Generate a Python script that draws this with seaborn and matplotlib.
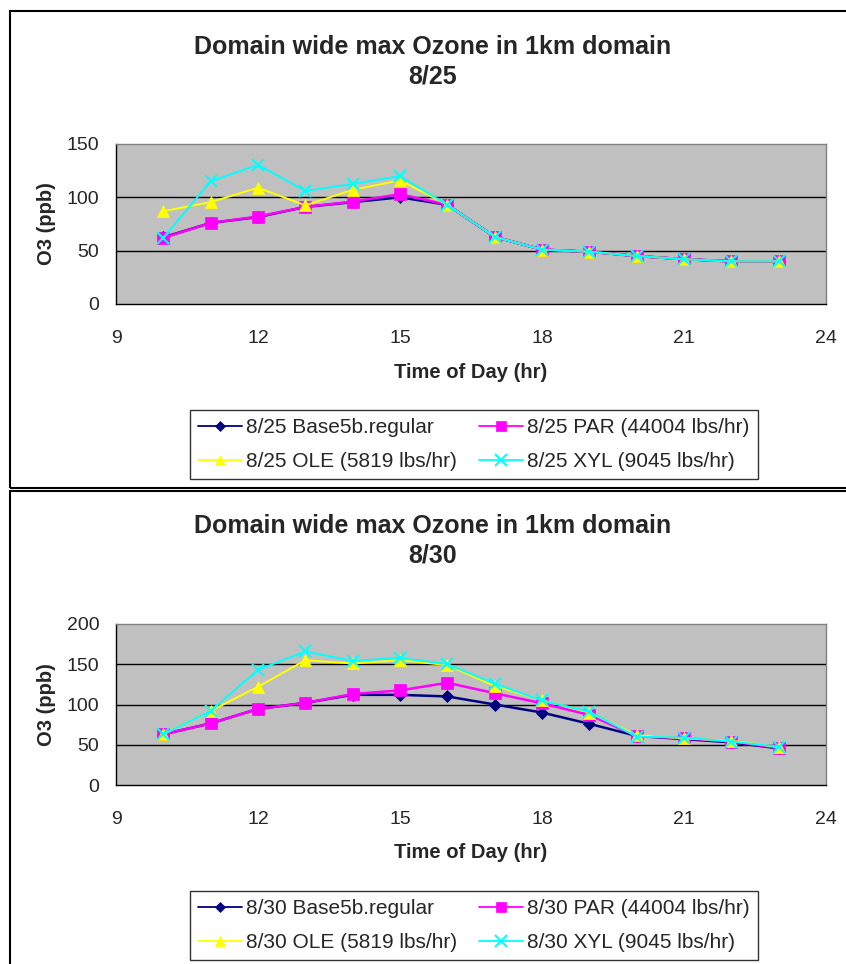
import matplotlib
matplotlib.use("Agg")
import matplotlib.pyplot as plt
import seaborn as sns
import pandas as pd
from matplotlib.patches import Rectangle
from matplotlib.lines import Line2D

sns.set_style("white")
plt.rcParams['font.family'] = ['Liberation Sans', 'DejaVu Sans']

hours = [10, 11, 12, 13, 14, 15, 16, 17, 18, 19, 20, 21, 22, 23]

# 8/25
base_825 = [62.5, 76, 81.5, 91, 95.5, 100, 93, 63, 51, 49, 45, 42, 40, 40]
par_825 = [62, 76, 82, 91, 96, 103, 93, 63, 51, 49, 45, 42, 40, 40]
ole_825 = [87, 95.5, 109, 92.5, 107, 116, 93, 63, 51, 49, 45, 42, 40, 40]
xyl_825 = [62, 115, 130.5, 106, 112.5, 120, 93, 63, 51, 49, 45, 42, 40, 40]

# 8/30
base_830 = [63, 76.5, 94.5, 102, 112, 112, 110, 100, 90, 76, 61, 57, 53, 45.5]
par_830 = [63, 76.5, 94.5, 102, 113, 117.5, 127, 114, 101.5, 87, 61, 58, 54, 46]
ole_830 = [63, 92, 122, 155, 151, 155, 149, 123, 105.5, 90, 62, 58, 55, 47]
xyl_830 = [63, 92, 143, 166, 154, 158, 150, 126, 105, 91, 60, 59, 54, 47.5]

series_names = ["Base5b.regular", "PAR (44004 lbs/hr)", "OLE (5819 lbs/hr)", "XYL (9045 lbs/hr)"]
colors = ["#000080", "#FF00FF", "#FFFF00", "#00FFFF"]
markers = ["D", "s", "^", "x"]
msizes = [6.5, 8, 8.5, 9]
lwidths = [1.8, 1.8, 1.4, 1.4]

W, H = 846, 964
fig = plt.figure(figsize=(W / 100, H / 100), dpi=100)

def fx(px):
    return px / W

def fy(py):
    return 1 - py / H

# chart borders
fig.patches.append(Rectangle((fx(10), fy(488)), fx(900) - fx(10), fy(11) - fy(488),
                             transform=fig.transFigure, fill=False, edgecolor="black", lw=1.5))
fig.patches.append(Rectangle((fx(10), fy(1000)), fx(900) - fx(10), fy(491) - fy(1000),
                             transform=fig.transFigure, fill=False, edgecolor="black", lw=1.5))

def panel(top, bottom, date, data, ymax, title_y, legend_top, xlabel_y):
    ax = fig.add_axes([fx(116), fy(bottom), fx(826) - fx(116), fy(top) - fy(bottom)])
    ax.set_facecolor("#C0C0C0")
    for name, vals, c, m, ms, lw in zip(series_names, data, colors, markers, msizes, lwidths):
        df = pd.DataFrame({"hour": hours, "o3": vals})
        sns.lineplot(data=df, x="hour", y="o3", ax=ax, color=c, marker=m, markersize=ms,
                     markeredgecolor=c, markeredgewidth=1.5 if m == "x" else 0.5,
                     linewidth=lw, label=f"{date} {name}", legend=False)
    ax.set_xlim(9, 24)
    ax.set_ylim(0, ymax)
    ax.set_xticks([9, 12, 15, 18, 21, 24])
    ax.set_yticks(list(range(0, ymax + 1, 50)))
    for y in range(50, ymax, 50):
        ax.axhline(y, color="black", lw=1, zorder=0.5)
    for s in ["left", "bottom"]:
        ax.spines[s].set_color("black")
        ax.spines[s].set_linewidth(1)
    for s in ["top", "right"]:
        ax.spines[s].set_color("#808080")
        ax.spines[s].set_linewidth(1)
    ax.tick_params(axis="both", direction="out", length=6, width=1, color="black",
                   labelsize=14)
    ax.tick_params(axis="x", pad=13)
    ax.tick_params(axis="y", pad=6)
    ax.set_xlabel("Time of Day (hr)", fontsize=14.5, fontweight="bold")
    ax.set_ylabel("O3 (ppb)", fontsize=14.5, fontweight="bold")
    ax.yaxis.set_label_coords((46 - 116) / 710, 0.5)
    ax.xaxis.set_label_coords(0.5, (bottom - xlabel_y) / (bottom - top))
    ax.xaxis.label.set_va("center")
    ax.yaxis.label.set_va("center")
    fig.text(fx(433), fy(title_y), f"Domain wide max Ozone in 1km domain\n{date}",
             ha="center", va="center", fontsize=18, fontweight="bold", linespacing=1.3)
    hs = [Line2D([], [], color=c, marker=m, markersize=ms - 1, markeredgecolor=c,
                 markeredgewidth=1.5 if m == "x" else 0.5, lw=1.3)
          for c, m, ms in zip(colors, markers, msizes)]
    labs = [f"{date} {n}" for n in series_names]
    order = [0, 2, 1, 3]
    leg = fig.legend([hs[i] for i in order], [labs[i] for i in order], ncol=2,
                     loc="upper left", bbox_to_anchor=(fx(190), fy(legend_top)),
                     fontsize=15, frameon=True, fancybox=False, edgecolor="black",
                     handlelength=2.1, handletextpad=0.2, columnspacing=1.05,
                     borderpad=0.4, labelspacing=0.7, borderaxespad=0)
    leg.get_frame().set_linewidth(1)
    return ax

panel(144, 304, "8/25", [base_825, par_825, ole_825, xyl_825], 150, 61.5, 410, 373)
panel(624, 785, "8/30", [base_830, par_830, ole_830, xyl_830], 200, 540.5, 891, 853)

fig.savefig("out.png", dpi=100)
